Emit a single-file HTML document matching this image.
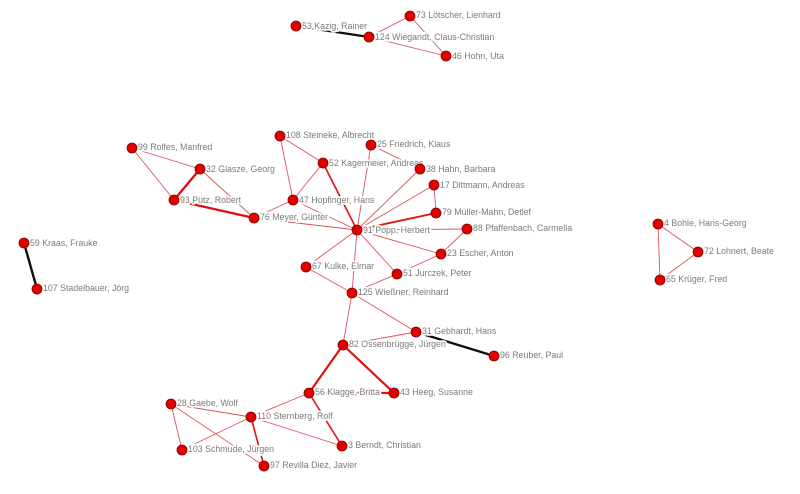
<!DOCTYPE html>
<html><head><meta charset="utf-8"><style>
html,body{margin:0;padding:0;background:#fff;width:800px;height:494px;overflow:hidden}
text{font-family:"Liberation Sans",sans-serif;font-size:8.8px;fill:#7a7a7a;stroke:#fff;stroke-width:3.5px;paint-order:stroke;stroke-linejoin:round}
</style></head><body>
<svg width="800" height="494" viewBox="0 0 800 494" xmlns="http://www.w3.org/2000/svg">
<g stroke="#d9545a" stroke-width="0.9" fill="none">
<line x1="410" y1="16" x2="369" y2="37"/><line x1="369" y1="37" x2="446" y2="56"/><line x1="410" y1="16" x2="446" y2="56"/>
<line x1="132" y1="148" x2="200" y2="169"/><line x1="132" y1="148" x2="174" y2="200"/><line x1="200" y1="169" x2="254" y2="218"/>
<line x1="254" y1="218" x2="293" y2="200"/><line x1="254" y1="218" x2="357" y2="230"/>
<line x1="280" y1="136" x2="293" y2="200"/><line x1="280" y1="136" x2="323" y2="163"/><line x1="323" y1="163" x2="293" y2="200"/>
<line x1="293" y1="200" x2="357" y2="230"/><line x1="371" y1="145" x2="357" y2="230"/><line x1="371" y1="145" x2="420" y2="169"/>
<line x1="420" y1="169" x2="357" y2="230"/><line x1="434" y1="185" x2="357" y2="230"/><line x1="434" y1="185" x2="436" y2="213"/>
<line x1="357" y1="230" x2="467" y2="229"/><line x1="467" y1="229" x2="441" y2="254"/><line x1="357" y1="230" x2="441" y2="254"/>
<line x1="357" y1="230" x2="397" y2="274"/><line x1="397" y1="274" x2="441" y2="254"/><line x1="397" y1="274" x2="352" y2="293"/>
<line x1="357" y1="230" x2="306" y2="267"/><line x1="357" y1="230" x2="352" y2="293"/><line x1="306" y1="267" x2="352" y2="293"/>
<line x1="352" y1="293" x2="416" y2="332"/><line x1="352" y1="293" x2="343" y2="345"/><line x1="416" y1="332" x2="343" y2="345"/>
<line x1="309" y1="393" x2="251" y2="417"/><line x1="171" y1="404" x2="251" y2="417"/><line x1="171" y1="404" x2="182" y2="450"/>
<line x1="171" y1="404" x2="264" y2="466"/><line x1="251" y1="417" x2="182" y2="450"/><line x1="251" y1="417" x2="342" y2="446"/>
<line x1="658" y1="224" x2="698" y2="252"/><line x1="658" y1="224" x2="660" y2="280"/><line x1="698" y1="252" x2="660" y2="280"/>
</g>
<g stroke="#e01010" fill="none">
<line x1="200" y1="169" x2="174" y2="200" stroke-width="2.4"/>
<line x1="174" y1="200" x2="254" y2="218" stroke-width="2.4"/>
<line x1="323" y1="163" x2="357" y2="230" stroke-width="1.6"/>
<line x1="436" y1="213" x2="357" y2="230" stroke-width="1.8"/>
<line x1="343" y1="345" x2="309" y2="393" stroke-width="2.2"/>
<line x1="343" y1="345" x2="394" y2="393" stroke-width="2.2"/>
<line x1="309" y1="393" x2="394" y2="393" stroke-width="2.2"/>
<line x1="309" y1="393" x2="342" y2="446" stroke-width="1.6"/>
<line x1="251" y1="417" x2="264" y2="466" stroke-width="1.6"/>
</g>
<g stroke="#111" stroke-width="2.4">
<line x1="296" y1="26" x2="369" y2="37"/><line x1="416" y1="332" x2="494" y2="356"/><line x1="24" y1="243" x2="37" y2="289"/>
</g>
<g>
<text x="302" y="29">53 Kazig, Rainer</text><text x="416" y="18">73 Lötscher, Lienhard</text><text x="375" y="40">124 Wiegandt, Claus-Christian</text><text x="452" y="59">46 Hohn, Uta</text>
<text x="138" y="150">99 Rolfes, Manfred</text><text x="206" y="172">32 Glasze, Georg</text><text x="180" y="203">93 Pütz, Robert</text><text x="260" y="220">76 Meyer, Günter</text>
<text x="286" y="138">108 Steineke, Albrecht</text><text x="329" y="166">52 Kagermeier, Andreas</text><text x="299" y="203">47 Hopfinger, Hans</text><text x="363" y="233">91 Popp, Herbert</text>
<text x="377" y="147">25 Friedrich, Klaus</text><text x="426" y="172">38 Hahn, Barbara</text><text x="440" y="188">17 Dittmann, Andreas</text><text x="442" y="215">79 Müller-Mahn, Detlef</text>
<text x="473" y="231">88 Pfaffenbach, Carmella</text><text x="447" y="256">23 Escher, Anton</text><text x="403" y="276">51 Jurczek, Peter</text><text x="312" y="269">67 Kulke, Elmar</text>
<text x="358" y="295">125 Wießner, Reinhard</text><text x="422" y="334">31 Gebhardt, Hans</text><text x="500" y="358">96 Reuber, Paul</text><text x="349" y="347">82 Ossenbrügge, Jürgen</text>
<text x="315" y="395">56 Klagge, Britta</text><text x="400" y="395">43 Heeg, Susanne</text><text x="177" y="406">28 Gaebe, Wolf</text><text x="257" y="419">110 Sternberg, Rolf</text>
<text x="188" y="452">103 Schmude, Jürgen</text><text x="270" y="468">97 Revilla Diez, Javier</text><text x="348" y="448">3 Berndt, Christian</text>
<text x="30" y="246">59 Kraas, Frauke</text><text x="43" y="291">107 Stadelbauer, Jörg</text>
<text x="664" y="226">4 Bohle, Hans-Georg</text><text x="704" y="254">72 Lohnert, Beate</text><text x="666" y="282">65 Krüger, Fred</text>
</g>
<g fill="#e00000" stroke="#8a0000" stroke-width="0.8">
<circle cx="296" cy="26" r="5"/><circle cx="410" cy="16" r="5"/><circle cx="369" cy="37" r="5"/><circle cx="446" cy="56" r="5"/>
<circle cx="132" cy="148" r="5"/><circle cx="200" cy="169" r="5"/><circle cx="174" cy="200" r="5"/><circle cx="254" cy="218" r="5"/>
<circle cx="280" cy="136" r="5"/><circle cx="323" cy="163" r="5"/><circle cx="293" cy="200" r="5"/><circle cx="357" cy="230" r="5"/>
<circle cx="371" cy="145" r="5"/><circle cx="420" cy="169" r="5"/><circle cx="434" cy="185" r="5"/><circle cx="436" cy="213" r="5"/>
<circle cx="467" cy="229" r="5"/><circle cx="441" cy="254" r="5"/><circle cx="397" cy="274" r="5"/><circle cx="306" cy="267" r="5"/>
<circle cx="352" cy="293" r="5"/><circle cx="416" cy="332" r="5"/><circle cx="494" cy="356" r="5"/><circle cx="343" cy="345" r="5"/>
<circle cx="309" cy="393" r="5"/><circle cx="394" cy="393" r="5"/><circle cx="171" cy="404" r="5"/><circle cx="251" cy="417" r="5"/>
<circle cx="182" cy="450" r="5"/><circle cx="264" cy="466" r="5"/><circle cx="342" cy="446" r="5"/>
<circle cx="24" cy="243" r="5"/><circle cx="37" cy="289" r="5"/>
<circle cx="658" cy="224" r="5"/><circle cx="698" cy="252" r="5"/><circle cx="660" cy="280" r="5"/>
</g>
</svg>
</body></html>
